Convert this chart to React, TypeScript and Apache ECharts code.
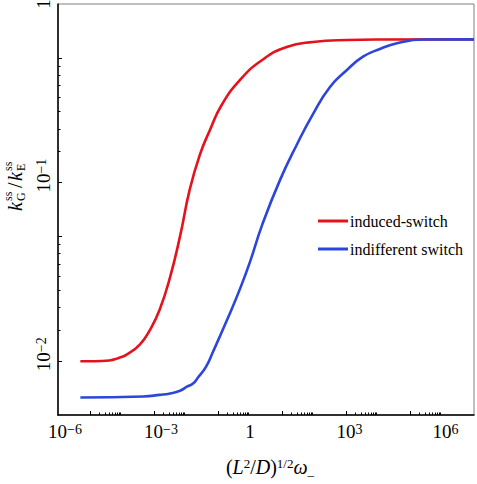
import React, { useEffect, useRef } from 'react';
import * as echarts from 'echarts';

// axis ranges
const X_MIN = 1e-6;
const X_MAX = 1e7;
const Y_MIN = 0.005;
const Y_MAX = 1;

// tick labels
const X_LABEL_VALUES = [1e-6, 1e-3, 1, 1e3, 1e6];
const X_LABEL_TEXTS = ['{p2|}{b|10}{s|−6}', '{p2|}{b|10}{s|−3}', '{b|1}', '{p1|}{b|10}{s|3}', '{p1|}{b|10}{s|6}'];
const Y_LABEL_VALUES = [0.01, 0.1, 1];
const Y_LABEL_TEXTS = ['{p2|}{b|10}{s|−2}', '{p2|}{b|10}{s|−1}', '{b|1}'];

// tick marks
const X_MAJOR_TICKS = [1e-5, 1e-3, 1e-1, 1e1, 1e3, 1e5];
const X_MINOR_MULTIPLIERS = [2, 3, 4, 5, 6, 7, 8, 9];
const Y_MAJOR_TICKS = [0.01, 0.05, 0.1, 0.5];
const Y_MINOR_TICKS = [0.015, 0.02, 0.025, 0.03, 0.035, 0.04, 0.045, 0.15, 0.2, 0.25, 0.3, 0.35, 0.4, 0.45];

// series
const SERIES_NAMES = ['induced-switch', 'indifferent switch'];
const SERIES_COLORS = ['#e5121c', '#2c46da'];

const RED_X = [5e-6, 1.4e-5, 4e-5, 7.5e-5, 1.4e-4, 3.6e-4, 7.5e-4, 1.5e-3, 3.2e-3, 6.5e-3, 0.013, 0.027, 0.056, 0.13, 0.49, 2.4, 14, 93, 1100, 11500, 1e7];
const RED_Y = [0.01, 0.01, 0.0101, 0.0104, 0.0109, 0.0124, 0.015, 0.0194, 0.0297, 0.05, 0.091, 0.143, 0.197, 0.272, 0.376, 0.486, 0.575, 0.613, 0.629, 0.633, 0.634];

const BLUE_X = [5e-6, 4.6e-4, 1.5e-3, 3.2e-3, 6.5e-3, 0.0107, 0.0166, 0.0237, 0.042, 0.07, 0.205, 0.49, 1, 2.4, 8.7, 29, 93, 316, 1070, 3400, 11500, 39000, 257000, 1e7];
const BLUE_Y = [0.00626, 0.00635, 0.00648, 0.0066, 0.00683, 0.0072, 0.0075, 0.0081, 0.0093, 0.0113, 0.0175, 0.0255, 0.036, 0.058, 0.1036, 0.163, 0.242, 0.343, 0.427, 0.507, 0.56, 0.603, 0.633, 0.634];

const FONT = 'Liberation Serif';

const labelRich = {
  b: { fontSize: 19, fontFamily: FONT, color: '#000' },
  s: { fontSize: 14, fontFamily: FONT, color: '#000', verticalAlign: 'top' as const },
  p1: { width: 7 },
  p2: { width: 14 },
};

function makeFormatter(values: number[], texts: string[]) {
  return (value: number) => {
    const i = values.findIndex((v) => Math.abs(Math.log10(v) - Math.log10(value)) < 0.01);
    return i >= 0 ? texts[i] : '';
  };
}

function minorTicks(decades: number[], mult: number[]) {
  const out: number[] = [];
  decades.forEach((d) => mult.forEach((m) => out.push(d * m)));
  return out;
}

export default function App() {
  const ref = useRef<HTMLDivElement>(null);

  useEffect(() => {
    if (!ref.current) return;
    const chart = echarts.init(ref.current, null, { renderer: 'svg' });

    const baseX = {
      type: 'log' as const,
      logBase: 10,
      min: X_MIN,
      max: X_MAX,
      position: 'bottom' as const,
      splitLine: { show: false },
      minorTick: { show: false },
      minorSplitLine: { show: false },
    };
    const baseY = {
      type: 'log' as const,
      logBase: 10,
      min: Y_MIN,
      max: Y_MAX,
      position: 'left' as const,
      splitLine: { show: false },
      minorTick: { show: false },
      minorSplitLine: { show: false },
    };

    const option: any = {
      animation: false,
      backgroundColor: '#fff',
      textStyle: { fontFamily: FONT },
      grid: {
        left: 58,
        right: 3,
        top: 4,
        bottom: 69,
        show: true,
        borderColor: '#808080',
        borderWidth: 1,
        backgroundColor: 'transparent',
        containLabel: false,
        outerBoundsMode: 'none',
      },
      xAxis: [
        {
          ...baseX,
          axisLine: { show: true, lineStyle: { color: '#000', width: 1.5 } },
          axisTick: { show: true, inside: true, length: 4, customValues: X_MAJOR_TICKS, lineStyle: { color: '#000', width: 1 } },
          axisLabel: {
            show: true,
            customValues: X_LABEL_VALUES,
            formatter: makeFormatter(X_LABEL_VALUES, X_LABEL_TEXTS),
            margin: 7,
            fontFamily: FONT,
            rich: labelRich,
          },
        },
        {
          ...baseX,
          axisLine: { show: false },
          axisTick: {
            show: true,
            inside: true,
            length: 2.5,
            customValues: minorTicks(X_MAJOR_TICKS, X_MINOR_MULTIPLIERS),
            lineStyle: { color: '#000', width: 1 },
          },
          axisLabel: { show: false },
        },
      ],
      yAxis: [
        {
          ...baseY,
          axisLine: { show: true, lineStyle: { color: '#000', width: 1.5 } },
          axisTick: { show: true, inside: true, length: 4, customValues: Y_MAJOR_TICKS, lineStyle: { color: '#000', width: 1 } },
          axisLabel: {
            show: true,
            rotate: 90,
            customValues: Y_LABEL_VALUES,
            formatter: makeFormatter(Y_LABEL_VALUES, Y_LABEL_TEXTS),
            margin: 5,
            fontFamily: FONT,
            rich: labelRich,
          },
        },
        {
          ...baseY,
          axisLine: { show: false },
          axisTick: { show: true, inside: true, length: 2.5, customValues: Y_MINOR_TICKS, lineStyle: { color: '#000', width: 1 } },
          axisLabel: { show: false },
        },
      ],
      legend: {
        show: true,
        orient: 'vertical',
        left: 313,
        top: 208,
        itemWidth: 30,
        itemHeight: 3,
        itemGap: 12,
        icon: 'rect',
        data: SERIES_NAMES,
        textStyle: { fontFamily: FONT, fontSize: 16, color: '#000', padding: [0, 0, 0, -3] },
      },
      series: [
        {
          name: SERIES_NAMES[0],
          type: 'line',
          xAxisIndex: 0,
          yAxisIndex: 0,
          data: RED_X.map((x, i) => [x, RED_Y[i]]),
          showSymbol: false,
          smooth: 0.5,
          lineStyle: { color: SERIES_COLORS[0], width: 2.6 },
          itemStyle: { color: SERIES_COLORS[0] },
        },
        {
          name: SERIES_NAMES[1],
          type: 'line',
          xAxisIndex: 0,
          yAxisIndex: 0,
          data: BLUE_X.map((x, i) => [x, BLUE_Y[i]]),
          showSymbol: false,
          smooth: 0.5,
          lineStyle: { color: SERIES_COLORS[1], width: 2.6 },
          itemStyle: { color: SERIES_COLORS[1] },
        },
      ],
      graphic: [
        {
          type: 'group',
          x: 15,
          y: 211,
          rotation: Math.PI / 2,
          children: [
            { type: 'text', x: 0, y: 0, style: { text: 'k', fontFamily: FONT, fontStyle: 'italic', fontSize: 20, fill: '#000', verticalAlign: 'middle' } },
            { type: 'text', x: 10, y: -7, style: { text: 'ss', fontFamily: FONT, fontSize: 12, fill: '#000', verticalAlign: 'middle' } },
            { type: 'text', x: 10, y: 6, style: { text: 'G', fontFamily: FONT, fontSize: 12, fill: '#000', verticalAlign: 'middle' } },
            { type: 'text', x: 23, y: 0, style: { text: '/', fontFamily: FONT, fontSize: 20, fill: '#000', verticalAlign: 'middle' } },
            { type: 'text', x: 30, y: 0, style: { text: 'k', fontFamily: FONT, fontStyle: 'italic', fontSize: 20, fill: '#000', verticalAlign: 'middle' } },
            { type: 'text', x: 40, y: -7, style: { text: 'ss', fontFamily: FONT, fontSize: 12, fill: '#000', verticalAlign: 'middle' } },
            { type: 'text', x: 40, y: 6, style: { text: 'E', fontFamily: FONT, fontSize: 12, fill: '#000', verticalAlign: 'middle' } },
          ],
        },
        {
          type: 'text',
          x: 270,
          y: 467,
          style: {
            text: '({i|L}{s|2}/{i|D}){s|1/2}{i|ω}{u|_}',
            align: 'center',
            verticalAlign: 'middle',
            fill: '#000',
            rich: {
              i: { fontSize: 20, fontFamily: FONT, fontStyle: 'italic' },
              s: { fontSize: 13, fontFamily: FONT, verticalAlign: 'top' },
              u: { fontSize: 13, fontFamily: FONT, verticalAlign: 'bottom' },
            },
            fontSize: 20,
            fontFamily: FONT,
          },
        },
      ],
    };

    chart.setOption(option);
    return () => chart.dispose();
  }, []);

  return (
    <div
      ref={ref}
      style={{ position: 'fixed', left: 0, top: 0, width: 477, height: 484, background: '#fff' }}
    />
  );
}
